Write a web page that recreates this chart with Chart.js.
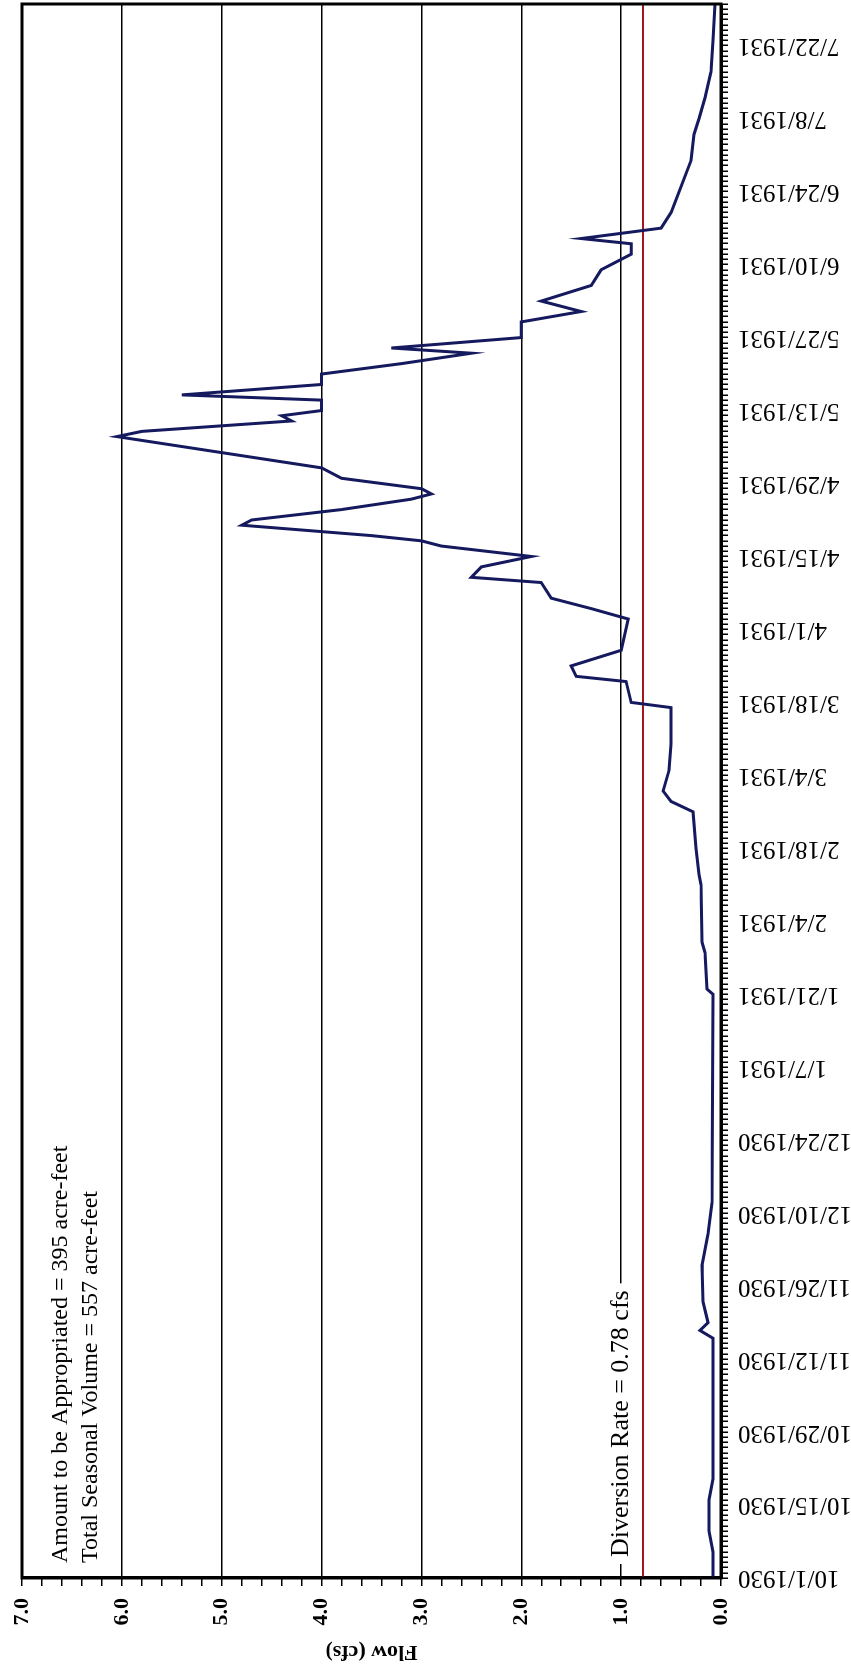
<!DOCTYPE html>
<html>
<head>
<meta charset="utf-8">
<script src="https://cdn.jsdelivr.net/npm/chart.js@4.4.1/dist/chart.umd.min.js"></script>
<style>
  html, body { margin: 0; padding: 0; background: #fff; }
  #page { position: relative; width: 851px; height: 1669px; overflow: hidden; }
  /* chart is laid out landscape, then turned a quarter turn counter-clockwise */
  #graph { position: absolute; left: 0; top: 0; transform-origin: 0 0; transform: translate(0, 1669px) rotate(-90deg); }
</style>
</head>
<body>
<div id="page"><canvas id="graph" width="1669" height="851"></canvas></div>
<script>
// date ticks, every 14 days starting 10/1/1930
const tickLabels = ['10/1/1930', '10/15/1930', '10/29/1930', '11/12/1930', '11/26/1930', '12/10/1930',
  '12/24/1930', '1/7/1931', '1/21/1931', '2/4/1931', '2/18/1931', '3/4/1931', '3/18/1931', '4/1/1931',
  '4/15/1931', '4/29/1931', '5/13/1931', '5/27/1931', '6/10/1931', '6/24/1931', '7/8/1931', '7/22/1931']

// daily flow, days counted from 10/1/1930
const flowDay = [0, 5, 9, 15, 19, 46, 47.5, 49, 53, 60, 66, 72, 112, 113, 120, 122, 133, 135, 140, 147,
  149, 151, 155, 160, 167, 168, 172, 173, 175, 178, 184, 186, 188, 191, 192, 194, 196, 198, 199, 200,
  202, 203, 205, 207, 208, 209, 211, 213, 219, 220, 222, 223, 224, 226, 227, 229, 231, 233, 235, 236,
  238, 241, 243, 245, 248, 251, 254, 256, 257, 259, 262, 267, 272, 277, 280, 284, 289, 295, 302]
const flowCfs = [0.08, 0.08, 0.12, 0.12, 0.08, 0.08, 0.21, 0.13, 0.18, 0.19, 0.13, 0.09, 0.08, 0.14, 0.16, 0.19, 0.2, 0.22, 0.25, 0.28,
  0.5, 0.58, 0.52, 0.5, 0.5, 0.9, 0.95, 1.45, 1.5, 1.0, 0.93, 1.3, 1.7, 1.8, 2.5, 2.4, 1.9, 2.8, 3.0, 3.5,
  4.8, 4.7, 3.8, 3.1, 2.9, 3.0, 3.8, 4.0, 6.05, 5.8, 4.3, 4.4, 4.0, 4.0, 5.4, 4.0, 4.0, 3.2, 2.5, 3.3,
  2.0, 2.0, 1.4, 1.8, 1.3, 1.2, 0.9, 0.9, 1.4, 0.6, 0.5, 0.4, 0.3, 0.27, 0.22, 0.16, 0.1, 0.08, 0.06]

const lastDay = 302
const diversionRate = 0.78
const notes = ['Amount to be Appropriated = 395 acre-feet', 'Total Seasonal Volume = 557 acre-feet']
const diversionNote = 'Diversion Rate = 0.78 cfs'

const serif = '"Liberation Serif", "Times New Roman", serif'

const extras = {
  id: 'extras',
  afterDraw(chart) {
    const { ctx, chartArea: a, scales: { y } } = chart
    ctx.save()
    ctx.strokeStyle = '#000'
    ctx.lineWidth = 3
    ctx.strokeRect(a.left, a.top, a.right - a.left, a.bottom - a.top)

    ctx.fillStyle = '#000'
    ctx.font = '24px ' + serif
    ctx.textAlign = 'left'
    ctx.textBaseline = 'middle'
    ctx.fillText(notes[0], a.left + 15, a.top + 39)
    ctx.fillText(notes[1], a.left + 15, a.top + 69)

    // label sits on the 1.0 grid line with a white box behind it
    ctx.font = '26px ' + serif
    const ly = y.getPixelForValue(1)
    const w = ctx.measureText(diversionNote).width
    ctx.fillStyle = '#fff'
    ctx.fillRect(a.left + 14, ly - 16, w + 14, 32)
    ctx.fillStyle = '#000'
    ctx.fillText(diversionNote, a.left + 21, ly)
    ctx.restore()
  }
}

new Chart(document.querySelector('#graph'), {
  type: 'line',
  data: {
    datasets: [{
      label: 'Flow',
      data: flowDay.map((d, i) => ({ x: d, y: flowCfs[i] })),
      borderColor: '#15195e',
      borderWidth: 3,
      pointRadius: 0,
      tension: 0
    }, {
      label: 'Diversion',
      data: [{ x: 0, y: diversionRate }, { x: lastDay, y: diversionRate }],
      borderColor: '#a3161c',
      borderWidth: 2,
      pointRadius: 0
    }]
  },
  options: {
    responsive: false,
    animation: false,
    devicePixelRatio: 1,
    layout: { padding: { top: 22, right: 4, left: 0, bottom: 0 } },
    plugins: { legend: { display: false }, tooltip: { enabled: false } },
    scales: {
      x: {
        type: 'linear',
        min: 0,
        max: lastDay,
        afterFit: s => { s.height = 130; s.paddingLeft = 0; s.paddingRight = 0 },
        border: { color: '#000', width: 3 },
        grid: { drawOnChartArea: false, color: '#000', tickLength: 7, lineWidth: 1.5 },
        ticks: {
          stepSize: 1,
          autoSkip: false,
          minRotation: 90,
          maxRotation: 90,
          padding: 10,
          color: '#000',
          font: { family: serif, size: 25 },
          callback: v => {
            const d = Math.round(v)
            return d % 14 === 0 ? tickLabels[d / 14] || '' : ''
          }
        }
      },
      y: {
        min: 0,
        max: 7,
        afterFit: s => { s.width = 91; s.paddingTop = 0; s.paddingBottom = 0 },
        border: { color: '#000', width: 3 },
        grid: {
          color: c => Math.abs(c.tick.value - Math.round(c.tick.value)) < 1e-6 ? '#000' : 'rgba(0,0,0,0)',
          tickColor: '#000',
          tickLength: 8,
          lineWidth: 1.5
        },
        ticks: {
          stepSize: 0.2,
          autoSkip: false,
          padding: 12,
          color: '#000',
          font: { family: serif, size: 22, weight: 'bold' },
          callback: v => Math.abs(v - Math.round(v)) < 1e-6 ? Math.round(v).toFixed(1) : ''
        },
        title: {
          display: true,
          text: 'Flow (cfs)',
          color: '#000',
          padding: { top: 4, bottom: 0 },
          font: { family: serif, size: 22, weight: 'bold' }
        }
      }
    }
  },
  plugins: [extras]
})
</script>
</body>
</html>
